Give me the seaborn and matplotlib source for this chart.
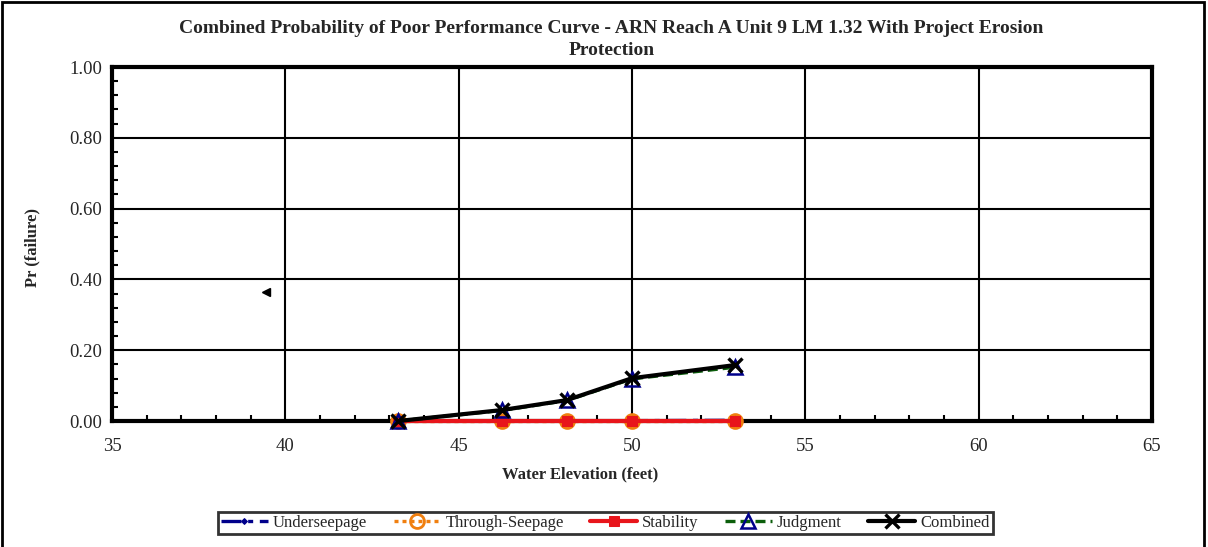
import pandas as pd
import matplotlib.pyplot as plt
import seaborn as sns
from matplotlib.ticker import MultipleLocator, FormatStrFormatter

# Water elevations (feet) and probabilities
elev = [43.25, 46.25, 48.12, 50.0, 52.97]
underseepage = [0.0, 0.0, 0.0, 0.001, 0.002]
through_seepage = [0.0, 0.0, 0.0, 0.0, 0.0]
stability = [0.0, 0.0, 0.0, 0.0, 0.0]
judgment = [0.0, 0.030, 0.058, 0.119, 0.152]
combined = [0.0, 0.031, 0.059, 0.121, 0.158]

# stray point left on the sheet
stray_x = [39.45]
stray_y = [0.364]

df = pd.DataFrame({
    'Elevation': elev,
    'Underseepage': underseepage,
    'Through-Seepage': through_seepage,
    'Stability': stability,
    'Judgment': judgment,
    'Combined': combined,
})

sns.set_style('white')
plt.rcParams['font.family'] = ['Liberation Serif', 'DejaVu Serif']

fig = plt.figure(figsize=(12.08, 5.47), dpi=100)
ax = fig.add_axes([0.0927, 0.2303, 0.8609, 0.6472])

# drawing order: later entries sit on top
styles = {
    'Underseepage': dict(color='#00008b', linestyle=(0, (6, 2, 1.5, 2)), marker='D', markersize=3,
                         markerfacecolor='#00008b', markeredgecolor='#00008b', linewidth=2.4),
    'Through-Seepage': dict(color='#f07f0f', linestyle=(0, (1.2, 1.2)), marker='o', markersize=10,
                            markerfacecolor='none', markeredgecolor='#f07f0f', markeredgewidth=2,
                            linewidth=2.4),
    'Stability': dict(color='#e8151b', linestyle='-', marker='s', markersize=7,
                      markerfacecolor='#e8151b', markeredgecolor='#e8151b', linewidth=3),
    'Judgment': dict(color='#0b5e0b', linestyle=(0, (3, 1.5)), marker='^', markersize=10,
                     markerfacecolor='none', markeredgecolor='#00008b', markeredgewidth=1.8,
                     linewidth=2.4),
    'Combined': dict(color='black', linestyle='-', marker='x', markersize=10,
                     markeredgecolor='black', markeredgewidth=2.4, linewidth=3),
}

for i, (name, st) in enumerate(styles.items()):
    sns.lineplot(data=df, x='Elevation', y=name, ax=ax, label=name,
                 clip_on=False, zorder=5 + i, **st)

ax.plot(stray_x, stray_y, marker='<', color='black', markersize=6, linestyle='none')

ax.set_xlim(35, 65)
ax.set_ylim(0, 1.0)
ax.xaxis.set_major_locator(MultipleLocator(5))
ax.xaxis.set_minor_locator(MultipleLocator(1))
ax.yaxis.set_major_locator(MultipleLocator(0.2))
ax.yaxis.set_minor_locator(MultipleLocator(0.04))
ax.yaxis.set_major_formatter(FormatStrFormatter('%.2f'))
ax.grid(True, which='major', color='black', linewidth=1.5)
ax.tick_params(which='major', direction='in', length=0, labelsize=13.5, pad=7)
ax.tick_params(axis='x', which='major', pad=12)
ax.tick_params(which='minor', direction='in', length=4, width=1.5, color='black', bottom=True, left=True)
for sp in ax.spines.values():
    sp.set_color('black')
    sp.set_linewidth(3)

ax.set_xlabel('Water Elevation (feet)', fontsize=12, fontweight='bold')
ax.xaxis.set_label_coords(0.45, -0.127)
ax.set_ylabel('Pr (failure)', fontsize=12, fontweight='bold')
ax.yaxis.set_label_coords(-0.069, 0.49)

fig.text(0.506, 0.893, 'Combined Probability of Poor Performance Curve - ARN Reach A Unit 9 LM 1.32 With Project Erosion\nProtection',
         ha='center', va='bottom', fontsize=14, fontweight='bold', linespacing=1.35)

leg = ax.legend(loc='center', bbox_to_anchor=(0.501, 0.044), bbox_transform=fig.transFigure,
                ncol=5, fontsize=12, frameon=True, fancybox=False, handlelength=2.8,
                columnspacing=1.6, handletextpad=0.3, borderpad=0.2, borderaxespad=0)
leg.get_frame().set_edgecolor('black')
leg.get_frame().set_linewidth(2)

fig.patches.append(plt.Rectangle((0.002, -0.05), 0.995, 1.047, transform=fig.transFigure,
                                 fill=False, edgecolor='black', linewidth=2))

fig.savefig('out.png', dpi=100)
plt.close()
